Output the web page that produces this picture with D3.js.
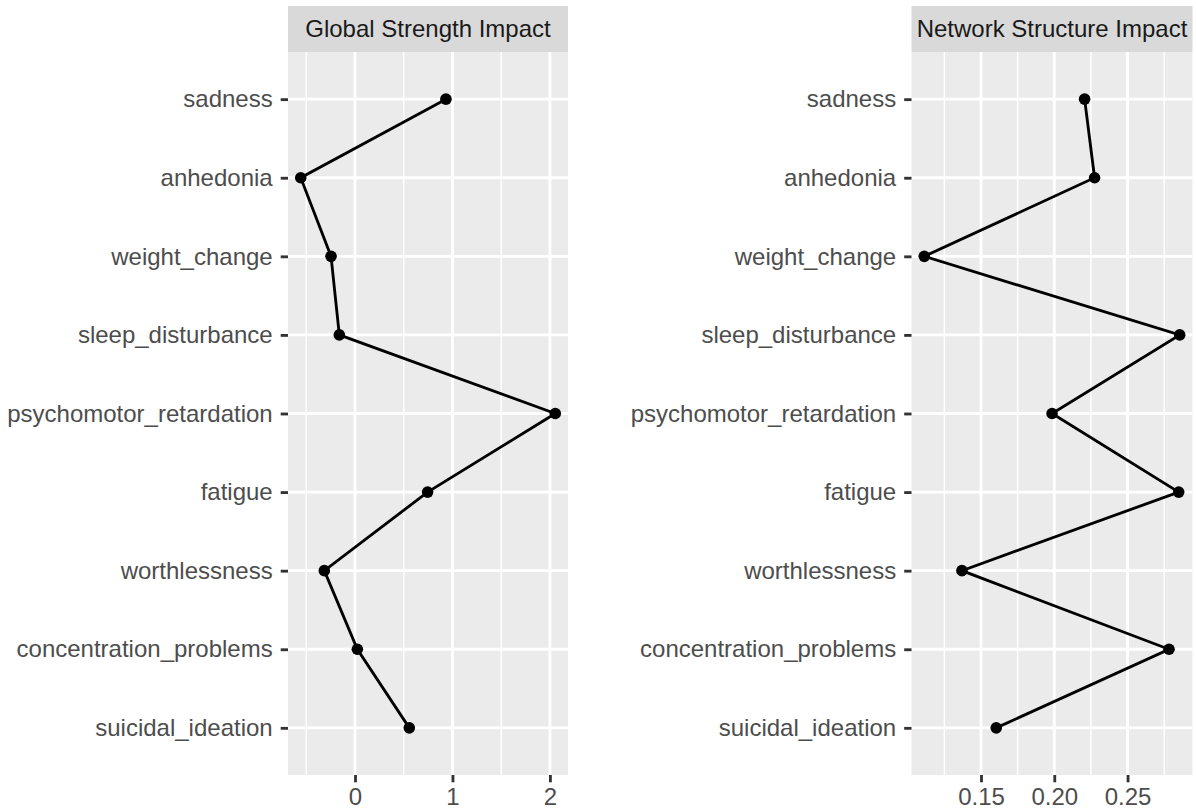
<!DOCTYPE html>
<html>
<head>
<meta charset="utf-8">
<script src="https://cdn.jsdelivr.net/npm/d3@7"></script>
<style>
  body { margin: 0; background: #fff; }
  svg text { font-family: "Liberation Sans", Arial, sans-serif; }
</style>
</head>
<body>
<script>
// data
var symptoms = ["sadness", "anhedonia", "weight_change", "sleep_disturbance",
  "psychomotor_retardation", "fatigue", "worthlessness",
  "concentration_problems", "suicidal_ideation"];

var globalStrength = [0.933, -0.557, -0.246, -0.161, 2.055, 0.745, -0.315, 0.024, 0.557];
var networkStructure = [0.2207, 0.2275, 0.1113, 0.2856, 0.1985, 0.2849, 0.137, 0.2783, 0.1604];

var globalTicks = [0, 1, 2];
var globalMinor = [-0.5, 0.5, 1.5];
var networkTicks = [0.15, 0.20, 0.25];
var networkMinor = [0.125, 0.175, 0.225, 0.275];

var W = 1196, H = 811;
var fontSize = 24;

var svg = d3.select("body")
  .append("svg")
    .attr("width", W)
    .attr("height", H);

var panelTop = 52, panelBottom = 775, stripTop = 6;

// y: discrete, ggplot expansion of 0.6 on each side
var yScale = d3.scalePoint()
  .domain(symptoms)
  .range([panelTop, panelBottom])
  .padding(0.6);

var drawPanel = function(opts) {
  var vals = opts.values;
  var ext = d3.extent(vals);
  var pad = (ext[1] - ext[0]) * 0.05;
  var xScale = d3.scaleLinear()
    .domain([ext[0] - pad, ext[1] + pad])
    .range([opts.left, opts.right]);

  var g = svg.append("g");

  // strip
  g.append("rect")
    .attr("x", opts.left)
    .attr("y", stripTop)
    .attr("width", opts.right - opts.left)
    .attr("height", panelTop - stripTop)
    .attr("fill", "#D9D9D9");
  g.append("text")
    .attr("x", (opts.left + opts.right) / 2)
    .attr("y", (stripTop + panelTop) / 2)
    .attr("dy", "0.35em")
    .attr("text-anchor", "middle")
    .attr("fill", "#1A1A1A")
    .style("font-size", fontSize + "px")
    .text(opts.title);

  // panel background
  g.append("rect")
    .attr("x", opts.left)
    .attr("y", panelTop)
    .attr("width", opts.right - opts.left)
    .attr("height", panelBottom - panelTop)
    .attr("fill", "#EBEBEB");

  // grid
  g.selectAll(".minor")
    .data(opts.minor)
    .enter()
    .append("line")
      .attr("x1", function(d){ return xScale(d); })
      .attr("x2", function(d){ return xScale(d); })
      .attr("y1", panelTop)
      .attr("y2", panelBottom)
      .attr("stroke", "#fff")
      .attr("stroke-width", 1.42);
  g.selectAll(".majorx")
    .data(opts.ticks)
    .enter()
    .append("line")
      .attr("x1", function(d){ return xScale(d); })
      .attr("x2", function(d){ return xScale(d); })
      .attr("y1", panelTop)
      .attr("y2", panelBottom)
      .attr("stroke", "#fff")
      .attr("stroke-width", 2.84);
  g.selectAll(".majory")
    .data(symptoms)
    .enter()
    .append("line")
      .attr("x1", opts.left)
      .attr("x2", opts.right)
      .attr("y1", function(d){ return yScale(d); })
      .attr("y2", function(d){ return yScale(d); })
      .attr("stroke", "#fff")
      .attr("stroke-width", 2.84);

  // line + points
  var line = d3.line()
    .x(function(d){ return xScale(d); })
    .y(function(d, i){ return yScale(symptoms[i]); });
  g.append("path")
    .datum(vals)
    .attr("d", line)
    .attr("fill", "none")
    .attr("stroke", "#000")
    .attr("stroke-width", 2.84);
  g.selectAll("circle")
    .data(vals)
    .enter()
    .append("circle")
      .attr("cx", function(d){ return xScale(d); })
      .attr("cy", function(d, i){ return yScale(symptoms[i]); })
      .attr("r", 5.8)
      .attr("fill", "#000");

  // axes
  var xAxis = d3.axisBottom(xScale)
    .tickValues(opts.ticks)
    .tickFormat(opts.format)
    .tickSizeInner(7.3)
    .tickSizeOuter(0)
    .tickPadding(5.9);
  var gx = g.append("g")
    .attr("transform", "translate(0," + panelBottom + ")")
    .call(xAxis);
  var yAxis = d3.axisLeft(yScale)
    .tickSizeInner(7.3)
    .tickSizeOuter(0)
    .tickPadding(8);
  var gy = g.append("g")
    .attr("transform", "translate(" + opts.left + ",0)")
    .call(yAxis);

  [gx, gy].forEach(function(ax) {
    ax.select(".domain").remove();
    ax.selectAll(".tick line")
      .attr("stroke", "#333333")
      .attr("stroke-width", 2.84);
    ax.selectAll(".tick text")
      .attr("fill", "#4D4D4D")
      .style("font-size", fontSize + "px")
      .style("font-family", "'Liberation Sans', Arial, sans-serif");
  });
  gx.selectAll(".tick text").attr("dy", "0.68em");
};

drawPanel({
  title: "Global Strength Impact",
  values: globalStrength,
  ticks: globalTicks,
  minor: globalMinor,
  format: d3.format("d"),
  left: 288,
  right: 568
});

drawPanel({
  title: "Network Structure Impact",
  values: networkStructure,
  ticks: networkTicks,
  minor: networkMinor,
  format: d3.format(".2f"),
  left: 911.5,
  right: 1192.5
});
</script>
</body>
</html>
